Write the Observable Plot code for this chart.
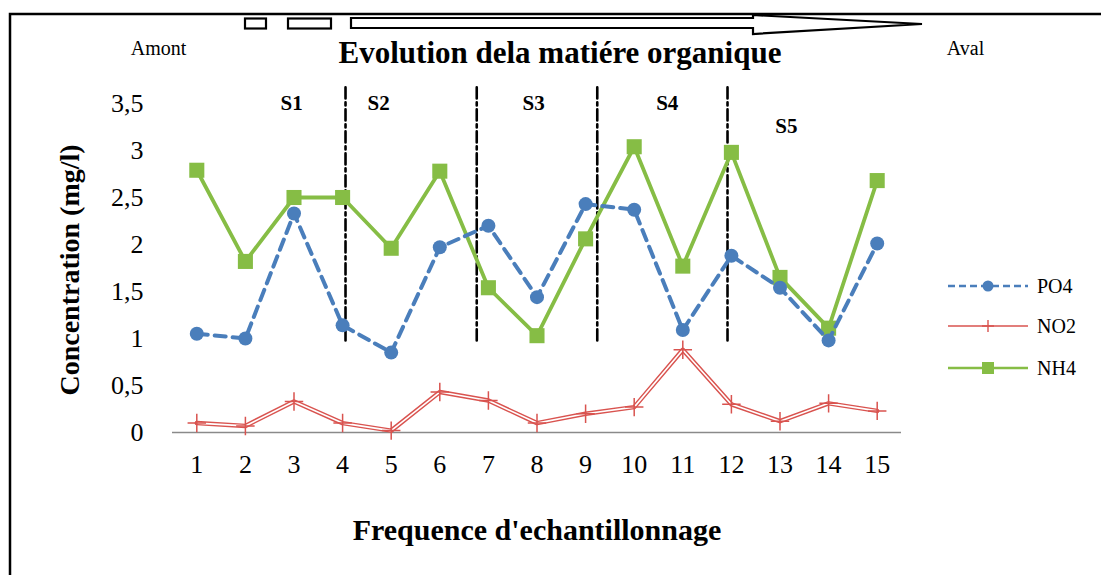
<!DOCTYPE html>
<html>
<head>
<meta charset="utf-8">
<script src="https://cdn.jsdelivr.net/npm/d3@7"></script>
<script src="https://cdn.jsdelivr.net/npm/@observablehq/plot@0.6"></script>
<style>
  html, body { margin: 0; padding: 0; background: #fff; }
  #chart svg { display: block; }
</style>
</head>
<body>
<div id="chart"></div>
<script>
// ---- data ----
const samples = [1, 2, 3, 4, 5, 6, 7, 8, 9, 10, 11, 12, 13, 14, 15];
const po4 = [1.05, 1.0, 2.33, 1.14, 0.85, 1.97, 2.2, 1.44, 2.43, 2.37, 1.09, 1.88, 1.54, 0.98, 2.01];
const no2 = [0.10, 0.07, 0.33, 0.10, 0.02, 0.43, 0.34, 0.10, 0.20, 0.27, 0.88, 0.30, 0.12, 0.31, 0.23];
const nh4 = [2.79, 1.82, 2.50, 2.50, 1.96, 2.78, 1.54, 1.03, 2.06, 3.04, 1.77, 2.98, 1.65, 1.11, 2.68];
const yTicks = [0, 0.5, 1, 1.5, 2, 2.5, 3, 3.5];
const seriesNames = ["PO4", "NO2", "NH4"];
const dividerX = [4.06, 6.76, 9.24, 11.92];
const dividerY = [0.98, 3.71];
const segLabels = ["S1", "S2", "S3", "S4", "S5"];
const segX = [2.95, 4.74, 7.93, 10.68, 13.13];
const segY = [3.5, 3.5, 3.5, 3.5, 3.26];
const titleText = "Evolution dela matiére organique";
const xTitle = "Frequence d'echantillonnage";
const yTitle = "Concentration (mg/l)";
const upLabel = "Amont", downLabel = "Aval";

// ---- style ----
const BLUE = "#4a7ebb", RED = "#d9534f", GREEN = "#86bd45";
const SERIF = "'Liberation Serif', 'DejaVu Serif', serif";

const rows = (vals) => samples.map((s, i) => ({x: s, y: vals[i]}));
const dPO4 = rows(po4), dNO2 = rows(no2), dNH4 = rows(nh4);
const dividers = dividerX.flatMap((x, i) => [{x, y: dividerY[0], id: i}, {x, y: dividerY[1], id: i}]);
const segs = segLabels.map((t, i) => ({t, x: segX[i], y: segY[i]}));

const T = {fontFamily: SERIF, fill: "#000"};

const W = 1101, H = 575;
const plot = Plot.plot({
  width: W,
  height: H,
  marginLeft: 172,
  marginRight: 200,
  marginTop: 103,
  marginBottom: 143,
  style: {fontFamily: SERIF, background: "#fff", overflow: "visible"},
  x: {domain: [0.5, 15.5], axis: null},
  y: {domain: [0, 3.5], axis: null},
  marks: [
    Plot.axisY(yTicks, {
      ...T, tickSize: 0, tickPadding: 29, fontSize: 26,
      tickFormat: (d) => String(d).replace(".", ","), label: null
    }),
    Plot.axisX(samples, {
      ...T, tickSize: 0, tickPadding: 22, fontSize: 26,
      tickFormat: (d) => String(d), label: null
    }),
    Plot.ruleY([0], {stroke: "#8a8a8a", strokeWidth: 1.5}),
    // dividers
    Plot.line(dividers, {x: "x", y: "y", z: "id", stroke: "#000", strokeWidth: 2.6,
      strokeDasharray: "11,4,3,4"}),
    // NH4
    Plot.line(dNH4, {x: "x", y: "y", stroke: GREEN, strokeWidth: 3.8}),
    Plot.dot(dNH4, {x: "x", y: "y", symbol: "square", r: 8.5, fill: GREEN}),
    // PO4
    Plot.line(dPO4, {x: "x", y: "y", stroke: BLUE, strokeWidth: 4, strokeDasharray: "11,7"}),
    Plot.dot(dPO4, {x: "x", y: "y", r: 7, fill: BLUE}),
    // NO2 (double line)
    Plot.line(dNO2, {x: "x", y: "y", stroke: RED, strokeWidth: 4.5}),
    Plot.line(dNO2, {x: "x", y: "y", stroke: "#fff", strokeWidth: 1.6}),
    Plot.dot(dNO2, {x: "x", y: "y", symbol: "plus", r: 6, stroke: RED, strokeWidth: 1.5}),
    // segment labels
    Plot.text(segs, {...T, x: "x", y: "y", text: "t", fontSize: 21, fontWeight: "bold"}),
    // axis titles
    Plot.text([xTitle], {...T, frameAnchor: "bottom", textAnchor: "middle", dx: 0, dy: 107, text: d => d, fontSize: 30, fontWeight: "bold"}),
    Plot.text([yTitle], {...T, frameAnchor: "left", textAnchor: "middle", dx: -102, dy: 2, rotate: -90, text: d => d, fontSize: 28, fontWeight: "bold"}),
    // title and upstream/downstream
    Plot.text([titleText], {...T, frameAnchor: "top", textAnchor: "middle", dx: 23, dy: -63, text: d => d, fontSize: 31, fontWeight: "bold"}),
    Plot.text([upLabel], {...T, frameAnchor: "top-left", textAnchor: "middle", dx: -14, dy: -63, text: d => d, fontSize: 20}),
    Plot.text([downLabel], {...T, frameAnchor: "top-right", textAnchor: "middle", dx: 64, dy: -63, text: d => d, fontSize: 20})
  ]
});
document.getElementById("chart").appendChild(plot);

// ---- decorations: frame, flow arrow, legend ----
const svg = d3.select(plot);
const deco = svg.append("g");
deco.append("path").attr("d", "M10,575 L10,14 L1101,14").attr("fill", "none").attr("stroke", "#000").attr("stroke-width", 2.5);
deco.append("rect").attr("x", 245).attr("y", 18.5).attr("width", 21).attr("height", 10).attr("fill", "#fff").attr("stroke", "#000").attr("stroke-width", 2.2);
deco.append("rect").attr("x", 288).attr("y", 18.5).attr("width", 43).attr("height", 10).attr("fill", "#fff").attr("stroke", "#000").attr("stroke-width", 2.2);
deco.append("path")
  .attr("d", "M351,18 L753,18 L753,15 L922,24 L753,34 L753,28 L351,28 Z")
  .attr("fill", "#fff").attr("stroke", "#000").attr("stroke-width", 2.2).attr("stroke-linejoin", "miter");

const leg = svg.append("g").attr("font-family", SERIF).attr("font-size", 20).attr("text-anchor", "start");
const legY = [286, 326, 368];
seriesNames.forEach((name, i) => {
  const y = legY[i];
  const g = leg.append("g");
  if (name === "PO4") {
    g.append("line").attr("x1", 948).attr("x2", 1028).attr("y1", y).attr("y2", y)
      .attr("stroke", BLUE).attr("stroke-width", 2.6).attr("stroke-dasharray", "7,4");
    g.append("circle").attr("cx", 988).attr("cy", y).attr("r", 5.5).attr("fill", BLUE);
  } else if (name === "NO2") {
    g.append("line").attr("x1", 948).attr("x2", 1028).attr("y1", y).attr("y2", y)
      .attr("stroke", RED).attr("stroke-width", 1.6);
    g.append("path").attr("d", `M988,${y - 6}V${y + 6}M982,${y}H994`).attr("stroke", RED).attr("stroke-width", 1.4);
  } else {
    g.append("line").attr("x1", 948).attr("x2", 1028).attr("y1", y).attr("y2", y)
      .attr("stroke", GREEN).attr("stroke-width", 2.6);
    g.append("rect").attr("x", 982).attr("y", y - 6).attr("width", 12).attr("height", 12).attr("fill", GREEN);
  }
  g.append("text").attr("x", 1037).attr("y", y).attr("dy", "0.35em").attr("fill", "#000").text(name);
});
</script>
</body>
</html>
